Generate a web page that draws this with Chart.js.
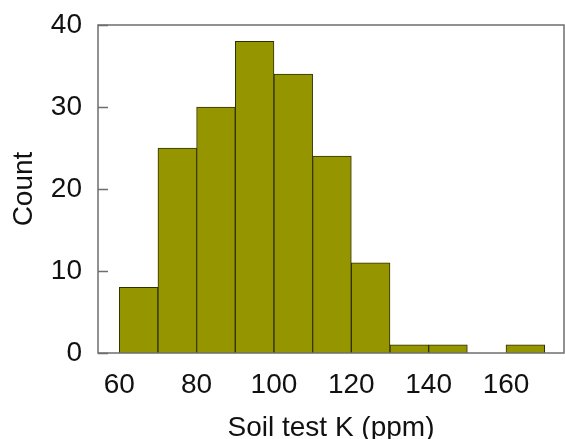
<!DOCTYPE html>
<html>
<head>
<meta charset="utf-8">
<script src="https://cdn.jsdelivr.net/npm/chart.js@4.4.0/dist/chart.umd.min.js"></script>
<style>
  html, body { margin: 0; padding: 0; background: #fff; overflow: hidden; }
  #wrap { width: 565px; height: 439px; }
</style>
</head>
<body>
<div id="wrap"><canvas id="hist" width="565" height="439"></canvas></div>
<script>
// histogram bins (centres, width 10 ppm) and counts
var binCentres = [65, 75, 85, 95, 105, 115, 125, 135, 145, 155, 165];
var counts = [8, 25, 30, 38, 34, 24, 11, 1, 1, 0, 1];
var xTicks = [60, 80, 100, 120, 140, 160];
var yTicks = [0, 10, 20, 30, 40];

var lineColor = '#6e6e6e';

// frame around the plot region plus inward y ticks, drawn over the bars
var boxFrame = {
  id: 'boxFrame',
  afterDatasetsDraw: function(chart) {
    var a = chart.chartArea;
    var ctx = chart.ctx;
    var y = chart.scales.y;
    ctx.save();
    ctx.strokeStyle = lineColor;
    ctx.lineWidth = 1.5;
    ctx.strokeRect(a.left, a.top, a.right - a.left, a.bottom - a.top);
    ctx.beginPath();
    yTicks.forEach(function(v) {
      var py = Math.round(y.getPixelForValue(v)) + 0.5;
      ctx.moveTo(a.left, py);
      ctx.lineTo(a.left + 10, py);
    });
    ctx.stroke();
    ctx.restore();
  }
};

Chart.defaults.font.family = '"Liberation Sans", Arial, sans-serif';
Chart.defaults.color = '#111';

new Chart('hist', {
  type: 'bar',
  data: {
    datasets: [{
      data: binCentres.map(function(x, i) { return {x: x, y: counts[i]}; }),
      backgroundColor: '#959500',
      borderColor: '#2f2f00',
      borderWidth: 1,
      barPercentage: 1,
      categoryPercentage: 1
    }]
  },
  options: {
    responsive: false,
    animation: false,
    events: [],
    layout: { autoPadding: false, padding: { top: 25, right: 1, left: 0, bottom: 0 } },
    plugins: { legend: { display: false }, tooltip: { enabled: false } },
    scales: {
      x: {
        type: 'linear',
        offset: false,
        min: 54.5,
        max: 175,
        afterBuildTicks: function(scale) {
          scale.ticks = xTicks.map(function(v) { return {value: v}; });
        },
        afterFit: function(scale) { scale.height = 86; },
        grid: { display: false, drawTicks: false },
        border: { display: false },
        ticks: { font: { size: 28 }, padding: 15, maxRotation: 0 },
        title: {
          display: true,
          text: 'Soil test K (ppm)',
          font: { size: 28 },
          padding: { top: 0, bottom: -6 }
        }
      },
      y: {
        min: 0,
        max: 40,
        afterBuildTicks: function(scale) {
          scale.ticks = yTicks.map(function(v) { return {value: v}; });
        },
        afterFit: function(scale) {
          scale.width = 98;
          scale.paddingTop = 0;
          scale.paddingBottom = 0;
        },
        grid: { display: false, drawTicks: false },
        border: { display: false },
        ticks: { font: { size: 28 }, padding: 16 },
        title: {
          display: true,
          text: 'Count',
          font: { size: 28 },
          padding: { top: 7, bottom: 0 }
        }
      }
    }
  },
  plugins: [boxFrame]
});
</script>
</body>
</html>
